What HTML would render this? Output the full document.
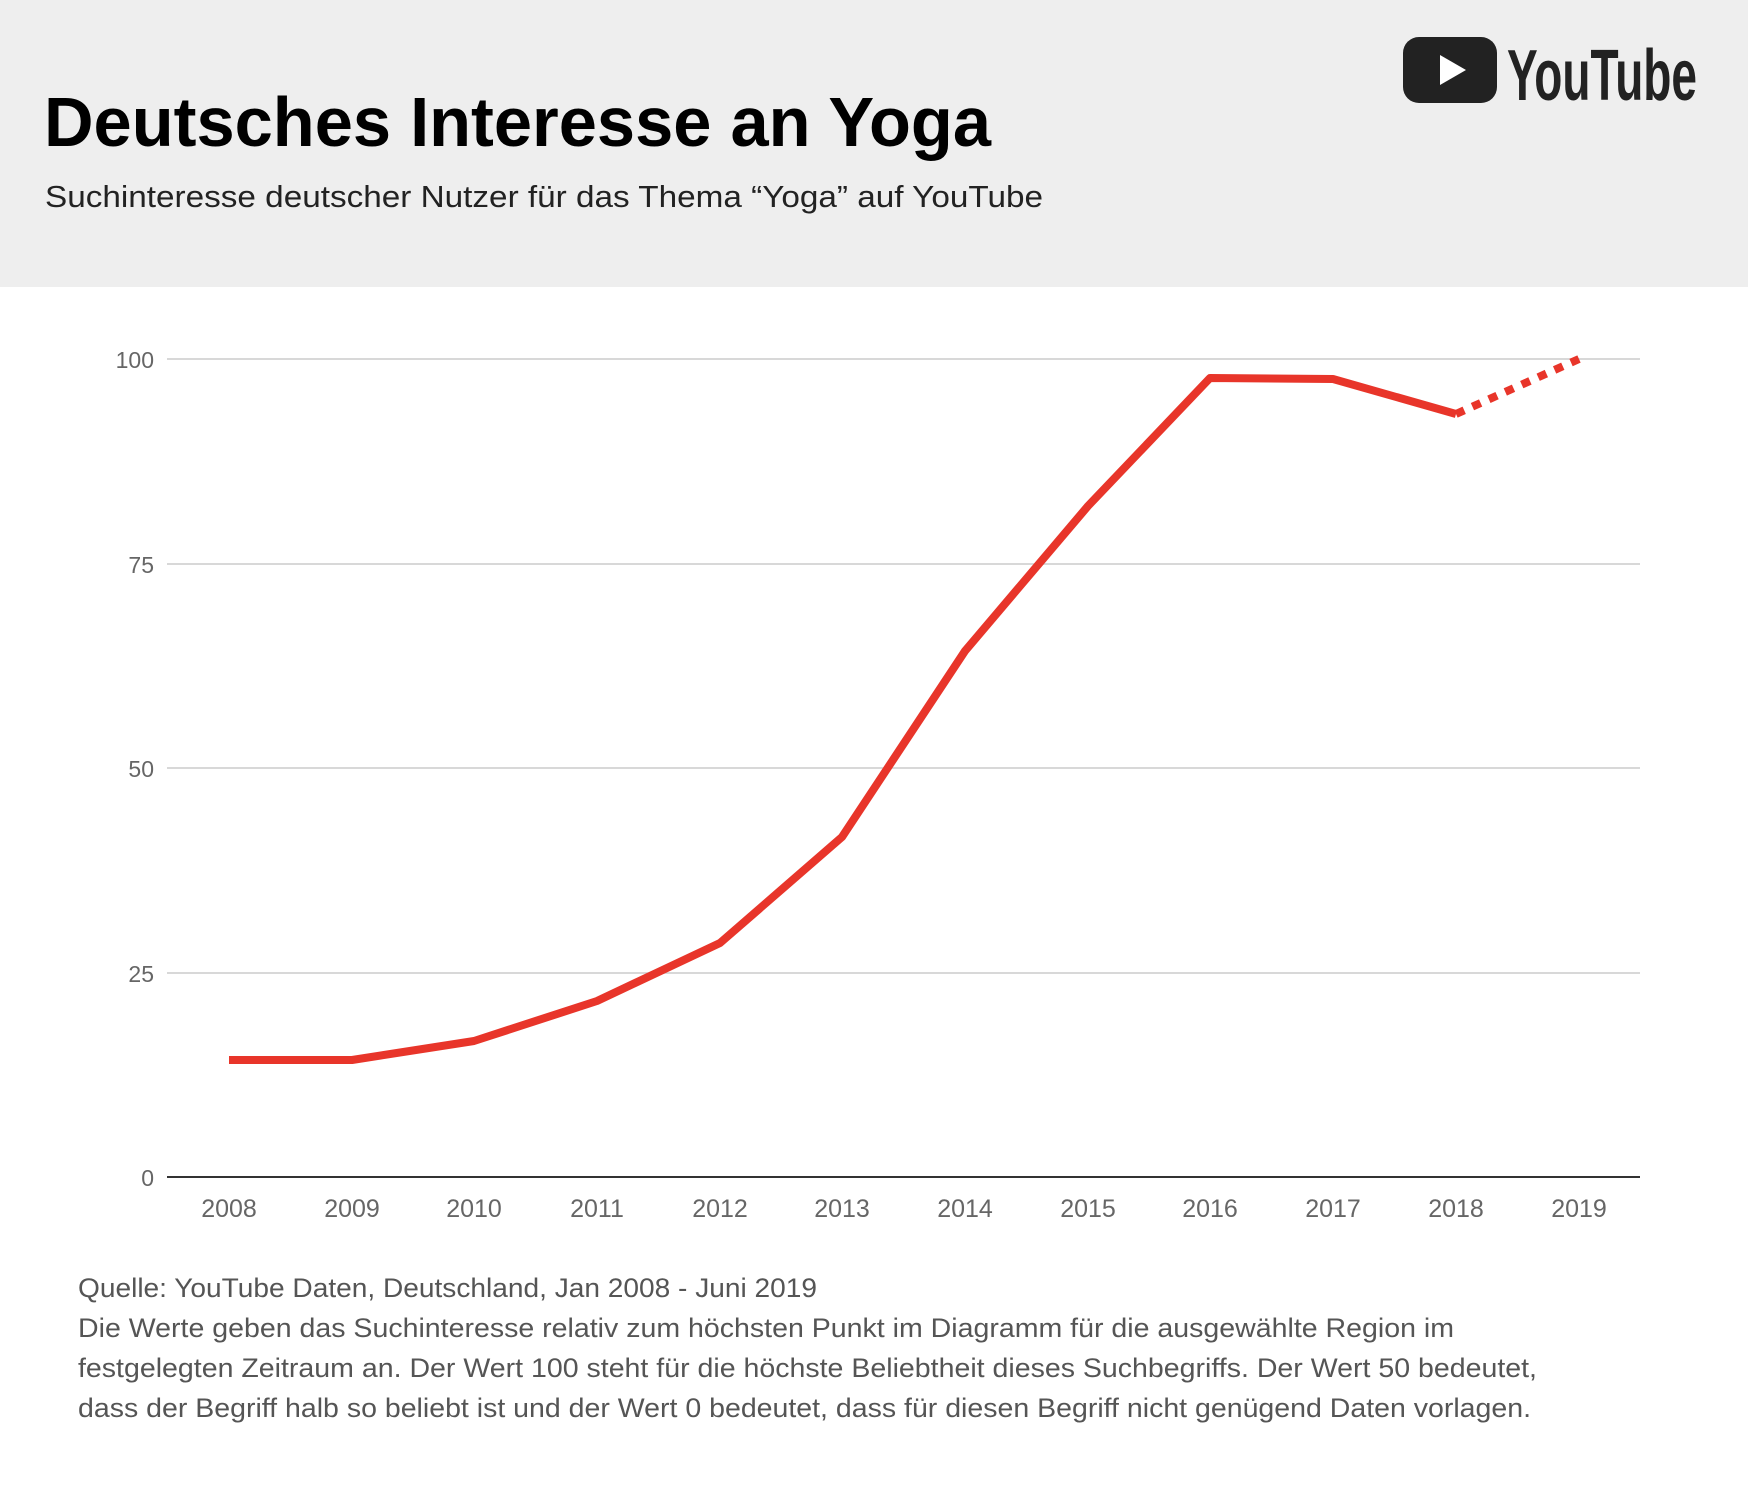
<!DOCTYPE html>
<html><head><meta charset="utf-8"><style>
body{margin:0;width:1748px;height:1496px;background:#fff;overflow:hidden;font-family:"Liberation Sans",sans-serif}
</style></head><body>
<svg width="1748" height="1496" viewBox="0 0 1748 1496" xmlns="http://www.w3.org/2000/svg">
<rect x="0" y="0" width="1748" height="287" fill="#eeeeee"/>
<text x="44" y="146" font-size="70" font-weight="bold" fill="#000" font-family="Liberation Sans, sans-serif" textLength="947" lengthAdjust="spacingAndGlyphs">Deutsches Interesse an Yoga</text>
<text x="45" y="207" font-size="31" fill="#222" font-family="Liberation Sans, sans-serif" textLength="998" lengthAdjust="spacingAndGlyphs">Suchinteresse deutscher Nutzer für das Thema “Yoga” auf YouTube</text>
<rect x="1403" y="37" width="94" height="66" rx="16" fill="#222"/>
<polygon points="1440,55 1440,85 1466,70" fill="#fff"/>
<text x="1507" y="100" font-size="72" font-weight="bold" fill="#222" font-family="Liberation Sans Narrow, Liberation Sans, sans-serif" textLength="190" lengthAdjust="spacingAndGlyphs">YouTube</text>
<g stroke="#cccccc" stroke-width="1.5">
<line x1="167" y1="359" x2="1640" y2="359"/>
<line x1="167" y1="564" x2="1640" y2="564"/>
<line x1="167" y1="768" x2="1640" y2="768"/>
<line x1="167" y1="973" x2="1640" y2="973"/>
</g>
<line x1="167" y1="1177" x2="1640" y2="1177" stroke="#333" stroke-width="2"/>
<g font-size="23" fill="#666" text-anchor="end" font-family="Liberation Sans, sans-serif">
<text x="154" y="368">100</text><text x="154" y="573">75</text><text x="154" y="777">50</text><text x="154" y="982">25</text><text x="154" y="1186">0</text>
</g>
<g font-size="25" fill="#666" text-anchor="middle" font-family="Liberation Sans, sans-serif">
<text x="229" y="1217">2008</text><text x="352" y="1217">2009</text><text x="474" y="1217">2010</text><text x="597" y="1217">2011</text><text x="720" y="1217">2012</text><text x="842" y="1217">2013</text><text x="965" y="1217">2014</text><text x="1088" y="1217">2015</text><text x="1210" y="1217">2016</text><text x="1333" y="1217">2017</text><text x="1456" y="1217">2018</text><text x="1579" y="1217">2019</text>
</g>
<polyline fill="none" stroke="#e8352a" stroke-width="8" stroke-linejoin="round" points="229,1060 352,1060 474,1041 597,1001 720,943 842,837 965,651 1088,506 1210,378 1333,379 1456,414"/>
<line x1="1456" y1="414" x2="1579" y2="359" stroke="#e8352a" stroke-width="8" stroke-dasharray="9,9"/>
<g font-size="27" fill="#555" font-family="Liberation Sans, sans-serif">
<text x="78" y="1297" textLength="739" lengthAdjust="spacingAndGlyphs">Quelle: YouTube Daten, Deutschland, Jan 2008 - Juni 2019</text>
<text x="78" y="1337" textLength="1376" lengthAdjust="spacingAndGlyphs">Die Werte geben das Suchinteresse relativ zum höchsten Punkt im Diagramm für die ausgewählte Region im</text>
<text x="78" y="1377" textLength="1459" lengthAdjust="spacingAndGlyphs">festgelegten Zeitraum an. Der Wert 100 steht für die höchste Beliebtheit dieses Suchbegriffs. Der Wert 50 bedeutet,</text>
<text x="78" y="1417" textLength="1453" lengthAdjust="spacingAndGlyphs">dass der Begriff halb so beliebt ist und der Wert 0 bedeutet, dass für diesen Begriff nicht genügend Daten vorlagen.</text>
</g>
</svg>
</body></html>
